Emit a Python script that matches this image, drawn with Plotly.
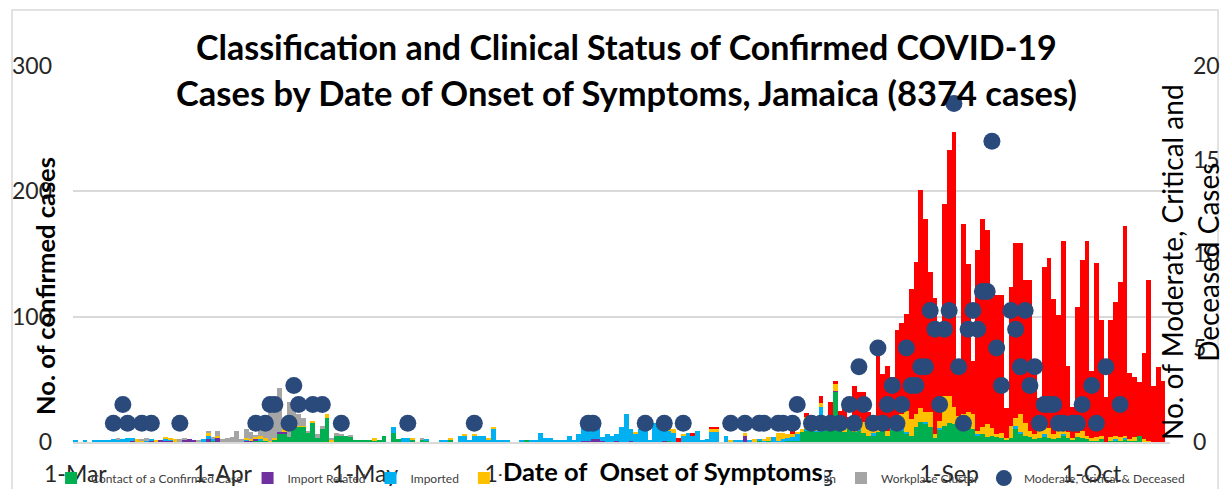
import plotly.graph_objects as go
import pandas as pd

# ---------------- data ----------------
start_date = "2020-03-01"
n_days = 230
dates = pd.date_range(start_date, periods=n_days, freq="D")

contact = [
    0,0,0,0,0,0,0,0,0,0,  0,0,0,0,0,0,0,0,0,0,  0,0,0,0,0,0,0,0,0,1,
    0,0,0,0,0,0,0,0,1,1,  1,0,2,7,7,4,17,12,12,7,  15,3,10,19,0,5,5,5,4,1,
    1,1,1,1,1,5,0,7,2,0,  0,2,0,2,1,0,0,0,0,2,  0,0,0,0,0,0,0,0,0,0,
    0,0,0,0,0,1,0,0,0,0,  0,0,0,0,0,0,0,0,0,0,  0,0,0,0,0,0,0,0,0,0,
    0,0,0,0,0,1,0,0,0,0,  0,0,0,0,0,0,0,0,0,0,  0,0,0,0,1,0,1,0,0,0,
    1,1,1,8,9,9,8,8,12,9,  40,10,8,11,8,9,7,5,5,8,  10,5,10,13,9,6,5,12,16,15,
    12,3,10,13,15,14,17,14,11,10,  5,6,4,5,4,3,2,3,10,6,  5,4,2,3,4,3,2,3,5,3,
    2,4,3,2,1,1,2,0,1,1,  1,2,1,1,5,0,0,0,0,0,
]
import_related = [
    0,0,0,0,0,0,0,0,0,0,  0,0,1,0,0,0,1,0,1,1,  1,0,0,2,2,1,0,0,2,0,
    3,0,0,0,0,0,1,1,2,0,  0,0,0,1,1,0,0,0,0,0,  0,0,0,0,0,0,0,0,0,0,
    0,0,0,0,0,0,0,0,0,0,  0,0,0,0,0,0,0,0,0,0,  0,0,0,0,0,0,0,0,0,0,
    0,0,0,0,0,0,0,0,0,0,  0,0,0,0,0,0,0,1,1,2,  2,1,0,0,1,0,0,1,0,0,
    0,0,0,0,1,0,0,0,0,0,  0,0,0,0,0,0,0,0,0,0,  0,5,0,0,0,0,0,0,0,0,
    0,0,0,0,0,0,0,0,1,0,  1,0,0,0,0,0,0,0,0,0,  0,0,0,0,0,0,0,0,0,0,
    0,0,0,0,0,0,0,0,0,0,  0,0,0,0,0,0,0,0,0,0,  0,0,0,0,0,0,0,0,0,0,
    0,0,0,0,0,0,0,0,0,0,  0,0,0,0,0,0,0,0,0,0,
]
imported = [
    1,0,1,0,1,1,1,1,2,2,  2,3,2,0,0,1,1,0,0,1,  1,0,0,0,0,0,0,2,3,1,
    0,0,0,0,0,0,1,0,0,1,  0,0,0,0,0,0,0,0,0,0,  0,0,0,0,0,0,0,0,0,0,
    0,0,0,0,0,0,0,5,0,3,  3,0,0,0,1,0,0,1,1,0,  0,5,5,1,5,5,5,2,10,1,
    1,1,0,0,1,0,1,1,7,3,  3,1,1,1,5,1,6,14,15,9,  11,3,6,5,5,12,22,9,7,10,
    9,1,15,12,9,8,7,0,5,7,  5,9,1,2,8,8,0,5,0,1,  1,0,1,0,1,1,0,4,1,2,
    2,3,5,0,1,0,1,20,2,0,  0,2,0,0,0,1,0,0,2,0,  0,0,1,0,3,2,0,0,0,1,
    0,0,1,0,0,0,1,0,0,0,  1,0,0,0,0,0,0,0,3,2,  0,0,0,0,2,0,0,0,1,0,
    0,0,0,0,0,0,0,0,0,1,  0,1,0,0,0,0,0,0,0,0,
]
local_transmission = [
    0,0,0,0,0,0,0,0,0,0,  0,0,0,2,1,0,0,1,0,2,  1,2,0,0,0,0,0,0,2,0,
    2,0,0,0,0,0,1,1,1,3,  2,1,1,0,2,0,3,1,1,0,  2,0,0,3,2,0,0,0,0,0,
    0,0,0,2,0,0,0,0,0,0,  0,1,0,0,0,0,0,0,0,1,  0,0,1,0,1,0,0,1,2,0,
    0,0,0,0,0,0,0,0,0,0,  0,0,0,0,0,0,0,0,0,0,  0,0,0,0,0,0,0,0,1,0,
    0,0,0,0,1,3,3,0,1,0,  0,0,0,0,2,2,0,0,1,0,  0,2,0,2,0,1,3,0,6,5,
    3,2,2,2,10,8,6,3,4,6,  5,5,6,5,4,10,9,5,5,6,  3,4,7,2,10,17,13,10,11,8,
    12,3,6,24,22,14,3,8,13,12,  3,6,10,6,2,4,1,10,6,14,  10,5,4,6,10,8,4,6,4,5,
    1,3,6,3,2,3,3,0,3,3,  3,2,1,3,0,2,1,0,0,0,
]
under_investigation = [
    0,0,0,0,0,0,0,0,0,0,  0,0,0,0,0,0,0,0,0,0,  0,0,0,0,0,0,0,0,0,0,
    0,0,0,0,0,0,0,0,0,0,  0,0,0,0,0,0,0,0,0,0,  0,0,0,0,0,0,0,0,0,0,
    0,0,0,0,0,0,0,0,0,0,  0,0,0,0,0,0,0,0,0,0,  0,0,0,0,0,0,0,0,0,0,
    0,0,0,0,0,0,0,0,0,0,  0,0,0,0,0,0,0,0,0,0,  0,0,0,0,0,0,0,0,0,0,
    0,0,0,0,0,0,0,3,0,0,  2,0,0,0,2,2,0,0,0,0,  0,0,0,0,0,0,0,0,0,0,
    0,3,0,0,3,2,3,6,0,17,  3,8,14,4,33,20,24,14,3,58,  41,52,34,74,73,77,104,122,174,154,
    112,109,78,153,196,219,45,152,118,43,  144,166,155,105,111,110,24,111,140,137,
    114,120,57,26,124,136,108,92,150,53,  25,101,136,155,54,139,92,36,93,107,
    124,167,53,48,43,69,128,45,60,49,
]
workplace_cluster = [
    0,0,0,0,0,0,0,0,0,1,  0,0,0,0,1,2,0,0,0,0,  0,0,2,1,0,0,1,0,2,2,
    4,2,3,4,9,2,7,6,1,11,  14,23,28,35,7,28,12,9,6,2,  0,3,3,0,1,2,1,0,1,0,
    0,0,0,0,0,0,0,0,0,0,  0,0,0,1,0,0,0,0,0,0,  0,0,0,0,0,0,0,0,0,0,
    0,0,0,0,0,0,0,0,0,0,  0,0,0,0,0,0,0,0,0,0,  0,0,0,0,0,0,0,0,0,0,
    0,0,0,0,0,0,0,0,0,0,  0,0,0,0,0,0,0,0,0,0,  0,0,0,0,0,0,0,0,0,0,
    0,0,0,0,0,0,0,0,0,0,  0,0,0,0,0,0,0,0,0,0,  0,0,0,0,0,0,0,0,0,0,
    0,0,0,0,0,0,0,0,0,0,  0,0,0,0,0,0,0,0,0,0,  0,0,0,0,0,0,0,0,0,0,
    0,0,0,0,0,0,0,0,0,0,  0,0,0,0,0,0,0,0,0,0,
]

mcd_dates = [
    "2020-03-09","2020-03-11","2020-03-12","2020-03-15","2020-03-17","2020-03-23",
    "2020-04-08","2020-04-10","2020-04-11","2020-04-12","2020-04-15","2020-04-16",
    "2020-04-17","2020-04-20","2020-04-22","2020-04-26",
    "2020-05-10","2020-05-24",
    "2020-06-17","2020-06-18","2020-06-29",
    "2020-07-03","2020-07-07","2020-07-17","2020-07-20","2020-07-23","2020-07-24",
    "2020-07-27","2020-07-28","2020-07-30","2020-07-31",
    "2020-08-03","2020-08-05","2020-08-07","2020-08-09","2020-08-11","2020-08-12",
    "2020-08-13","2020-08-14","2020-08-16","2020-08-17","2020-08-18","2020-08-19",
    "2020-08-20","2020-08-21","2020-08-22","2020-08-23","2020-08-24","2020-08-25",
    "2020-08-26","2020-08-27","2020-08-28","2020-08-29","2020-08-30","2020-08-31",
    "2020-09-01","2020-09-02","2020-09-03","2020-09-04","2020-09-05","2020-09-06",
    "2020-09-07","2020-09-08","2020-09-09","2020-09-10","2020-09-11","2020-09-12",
    "2020-09-14","2020-09-15","2020-09-16","2020-09-17","2020-09-18","2020-09-19",
    "2020-09-20","2020-09-21","2020-09-22","2020-09-23","2020-09-24","2020-09-25",
    "2020-09-27","2020-09-28","2020-09-29",
    "2020-10-01","2020-10-02","2020-10-04","2020-10-07",
]
mcd_values = [
    1,2,1,1,1,1,
    1,1,2,2,1,3,
    2,2,2,1,
    1,1,
    1,1,1,
    1,1,1,1,1,1,
    1,1,1,2,
    1,1,1,1,2,1,
    4,2,1,5,1,2,
    3,1,2,5,3,3,
    4,4,7,6,2,6,
    7,18,4,1,6,7,
    6,8,8,16,5,3,
    7,6,4,7,3,4,
    1,2,2,2,1,1,
    1,1,2,
    3,1,4,2,
]

tick_dates = ["2020-03-01","2020-04-01","2020-05-01","2020-06-01",
              "2020-07-01","2020-08-01","2020-09-01","2020-10-01"]
tick_labels = ["1-Mar","1-Apr","1-May","1-Jun","1-Jul","1-Aug","1-Sep","1-Oct"]
left_ticks = [0, 100, 200, 300]
right_ticks = [0, 5, 10, 15, 20]

series_names = ["Contact of a Confirmed Case", "Import Related", "Imported",
                "Local Transmission (Not Epi Linked)", "Under Investigation",
                "Workplace Cluster"]
series_values = [contact, import_related, imported, local_transmission,
                 under_investigation, workplace_cluster]
series_colors = ["#00B050", "#7030A0", "#00B0F0", "#FFC000", "#FF0000", "#A5A5A5"]

FONT = "Lato"
TXT = "#262626"

fig = go.Figure()
for name, vals, col in zip(series_names, series_values, series_colors):
    fig.add_trace(go.Bar(x=dates, y=vals, name=name, yaxis="y",
                         marker=dict(color=col, line=dict(width=0))))
fig.add_trace(go.Scatter(x=mcd_dates, y=mcd_values, mode="markers",
                         name="Moderate, Critical & Deceased", yaxis="y2",
                         marker=dict(size=17, color="#2A4A7C")))

fig.update_layout(
    width=1225, height=489,
    margin=dict(l=73, r=55, t=66, b=47, autoexpand=False),
    paper_bgcolor="white", plot_bgcolor="white",
    barmode="stack", bargap=0,
    font=dict(family=FONT, color=TXT),
    showlegend=True,
    legend=dict(orientation="h", x=-0.02, xanchor="left", y=-0.096, yanchor="middle",
                font=dict(size=12, color="#404040", family=FONT),
                bgcolor="rgba(0,0,0,0)", itemwidth=30, traceorder="normal"),
    xaxis=dict(type="date", range=["2020-02-29 12:00", "2020-10-17 12:00"],
               tickvals=tick_dates, ticktext=tick_labels, ticks="",
               showgrid=False, zeroline=False, showline=True,
               linecolor="#D9D9D9", linewidth=2, ticklabelstandoff=10,
               tickfont=dict(size=23, color=TXT, family=FONT)),
    yaxis=dict(range=[0, 300], tickvals=left_ticks, showgrid=True,
               gridcolor="#D9D9D9", gridwidth=1.5, zeroline=False, showline=False,
               ticks="", tickfont=dict(size=23, color=TXT, family=FONT),
               ticklabelstandoff=20),
    yaxis2=dict(range=[0, 20], tickvals=right_ticks, overlaying="y", side="right",
                showgrid=False, zeroline=False, showline=False, ticks="",
                tickfont=dict(size=23, color=TXT, family=FONT),
                ticklabelstandoff=22),
    shapes=[dict(type="rect", xref="paper", yref="paper",
                 x0=-0.0556, x1=1.0438, y0=-0.16, y1=1.149,
                 line=dict(color="#D9D9D9", width=1.5), fillcolor="rgba(0,0,0,0)",
                 layer="below")],
    annotations=[
        dict(text="<b>Classification and Clinical Status of Confirmed COVID-19</b>",
             xref="paper", yref="paper", x=0.505, y=(442 - 46) / 376,
             xanchor="center", yanchor="middle", showarrow=False,
             font=dict(size=34, color="black", family=FONT)),
        dict(text="<b>Cases by Date of Onset of Symptoms, Jamaica (8374 cases)</b>",
             xref="paper", yref="paper", x=0.505, y=(442 - 92) / 376,
             xanchor="center", yanchor="middle", showarrow=False,
             font=dict(size=34.5, color="black", family=FONT)),
        dict(text="<b>No. of confirmed cases</b>", textangle=-90,
             xref="paper", yref="paper", x=(45 - 73) / 1097, y=(442 - 286) / 376,
             xanchor="center", yanchor="middle", showarrow=False,
             font=dict(size=25.5, color="black", family=FONT)),
        dict(text="No. of Moderate, Critical and<br>Deceased Cases", textangle=-90,
             xref="paper", yref="paper", x=(1190 - 73) / 1097, y=(442 - 262) / 376,
             xanchor="center", yanchor="middle", showarrow=False,
             font=dict(size=28, color="black", family=FONT)),
        dict(text="<b>Date of  Onset of Symptoms</b>",
             xref="paper", yref="paper", x=(663 - 73) / 1097, y=(442 - 471) / 376,
             xanchor="center", yanchor="middle", showarrow=False, bgcolor="white",
             font=dict(size=25.5, color="black", family=FONT)),
    ],
)

fig.write_html("out.html", config={"displayModeBar": False},
               post_script="document.body.style.margin='0';")
